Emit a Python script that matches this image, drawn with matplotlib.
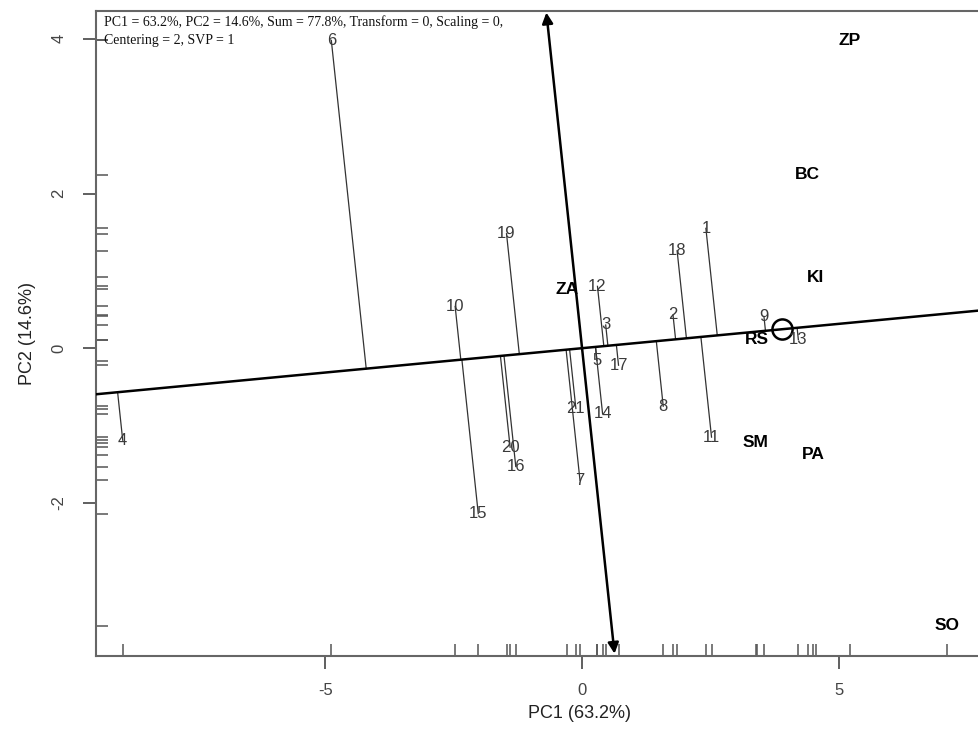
import matplotlib
matplotlib.use("Agg")
import matplotlib.pyplot as plt
import numpy as np

# genotype scores (PC1, PC2)
GEN_LABELS = [str(i) for i in range(1, 22)]
GEN_PC1 = [2.41, 1.77, 0.46, -8.94, 0.29, -4.88, -0.04, 1.58, 3.54, -2.47,
           2.52, 0.30, 4.21, 0.40, -2.02, -1.29, 0.71, 1.85, -1.47, -1.40, -0.12]
GEN_PC2 = [1.55, 0.43, 0.30, -1.19, -0.16, 3.98, -1.71, -0.75, 0.41, 0.54,
           -1.15, 0.80, 0.11, -0.85, -2.14, -1.53, -0.22, 1.26, 1.48, -1.28, -0.78]

# environment scores (PC1, PC2)
ENV_LABELS = ["ZP", "BC", "KI", "RS", "SM", "PA", "SO", "ZA"]
ENV_PC1 = [5.21, 4.39, 4.55, 3.40, 3.38, 4.50, 7.10, -0.29]
ENV_PC2 = [3.98, 2.24, 0.92, 0.11, -1.22, -1.38, -3.59, 0.76]

# average environment coordinate
AEC = (3.89, 0.245)

INFO_LINES = ["PC1 = 63.2%, PC2 = 14.6%, Sum = 77.8%, Transform = 0, Scaling = 0,",
              "Centering = 2, SVP = 1"]
XLABEL = "PC1 (63.2%)"
YLABEL = "PC2 (14.6%)"

XLIM = (-9.46, 9.38)
YLIM = (-3.98, 4.36)
ORD_TILT = -0.16  # dx/dy of the ATC ordinate in data units

SANS = ["Liberation Sans", "Arial", "DejaVu Sans"]
SERIF = ["Liberation Serif", "Times New Roman", "DejaVu Serif"]


def main():
    plt.rcParams.update({
        "font.family": "sans-serif",
        "font.sans-serif": SANS,
    })
    W, H = 979, 731
    fig = plt.figure(figsize=(W / 100, H / 100), dpi=100)
    ax = fig.add_axes([96 / W, (H - 656) / H, 968 / W, 645 / H])
    ax.set_xlim(*XLIM)
    ax.set_ylim(*YLIM)

    for sp in ax.spines.values():
        sp.set_color("#666666")
        sp.set_linewidth(1.5)

    ax.set_xticks([-5, 0, 5])
    ax.set_xticklabels(["-5", "0", "5"])
    ax.set_yticks([-2, 0, 2, 4])
    ax.set_yticklabels(["-2", "0", "2", "4"], rotation=90, va="center")
    ax.tick_params(direction="out", length=9.5, width=1.2, color="#444444",
                   labelsize=12, labelcolor="#444444")
    ax.tick_params(axis="x", pad=10)
    ax.tick_params(axis="y", pad=12)
    ax.set_xlabel(XLABEL, fontsize=13, color="#222222", labelpad=5)
    ax.set_ylabel(YLABEL, fontsize=13, color="#222222", labelpad=11)

    gx = np.array(GEN_PC1)
    gy = np.array(GEN_PC2)
    ex = np.array(ENV_PC1)
    ey = np.array(ENV_PC2)

    # rug of all scores along the axes
    all_x = np.concatenate([gx, ex])
    all_y = np.concatenate([gy, ey])
    ax.vlines(all_x, 0, 0.018, transform=ax.get_xaxis_transform(),
              color="#555555", linewidth=1.1, clip_on=False)
    ax.hlines(all_y, 0, 0.0125, transform=ax.get_yaxis_transform(),
              color="#555555", linewidth=1.1, clip_on=False)

    # ATC abscissa through origin and the average environment
    m = AEC[1] / AEC[0]
    ax.axline((0, 0), AEC, color="black", linewidth=1.8, zorder=3)
    ax.plot([AEC[0]], [AEC[1]], marker="o", markersize=14.5, fillstyle="none",
            markeredgecolor="black", markeredgewidth=1.8, zorder=4)

    # ATC ordinate with arrowheads at both ends
    y0, y1 = YLIM[0] + 0.03, YLIM[1] - 0.02
    ax.annotate("", xy=(ORD_TILT * y1, y1), xytext=(ORD_TILT * y0, y0),
                arrowprops=dict(arrowstyle="<|-|>", color="black", lw=1.8,
                                mutation_scale=16, shrinkA=0, shrinkB=0),
                zorder=3)

    # projection of each genotype onto the abscissa
    t = (gx - gy * ORD_TILT) / (1 - m * ORD_TILT)
    for x, y, tt in zip(gx, gy, t):
        ax.plot([x, tt], [y, tt * m], color="#333333", linewidth=0.9, zorder=2)

    for lab, x, y in zip(GEN_LABELS, gx, gy):
        ax.text(x, y, lab, ha="center", va="center", fontsize=12,
                color="#3a3a3a", zorder=5)
    for lab, x, y in zip(ENV_LABELS, ex, ey):
        ax.text(x, y, lab, ha="center", va="center", fontsize=12.5,
                fontweight="bold", color="black", zorder=5)

    # info lines as separate texts, like the original two-line header
    for i, line in enumerate(INFO_LINES):
        ax.text(0.0083, 0.993 - i * 0.029, line, transform=ax.transAxes,
                ha="left", va="top", fontsize=10, family=SERIF,
                color="#111111")

    fig.savefig("out.png", dpi=100)
    plt.close(fig)


if __name__ == "__main__":
    main()
